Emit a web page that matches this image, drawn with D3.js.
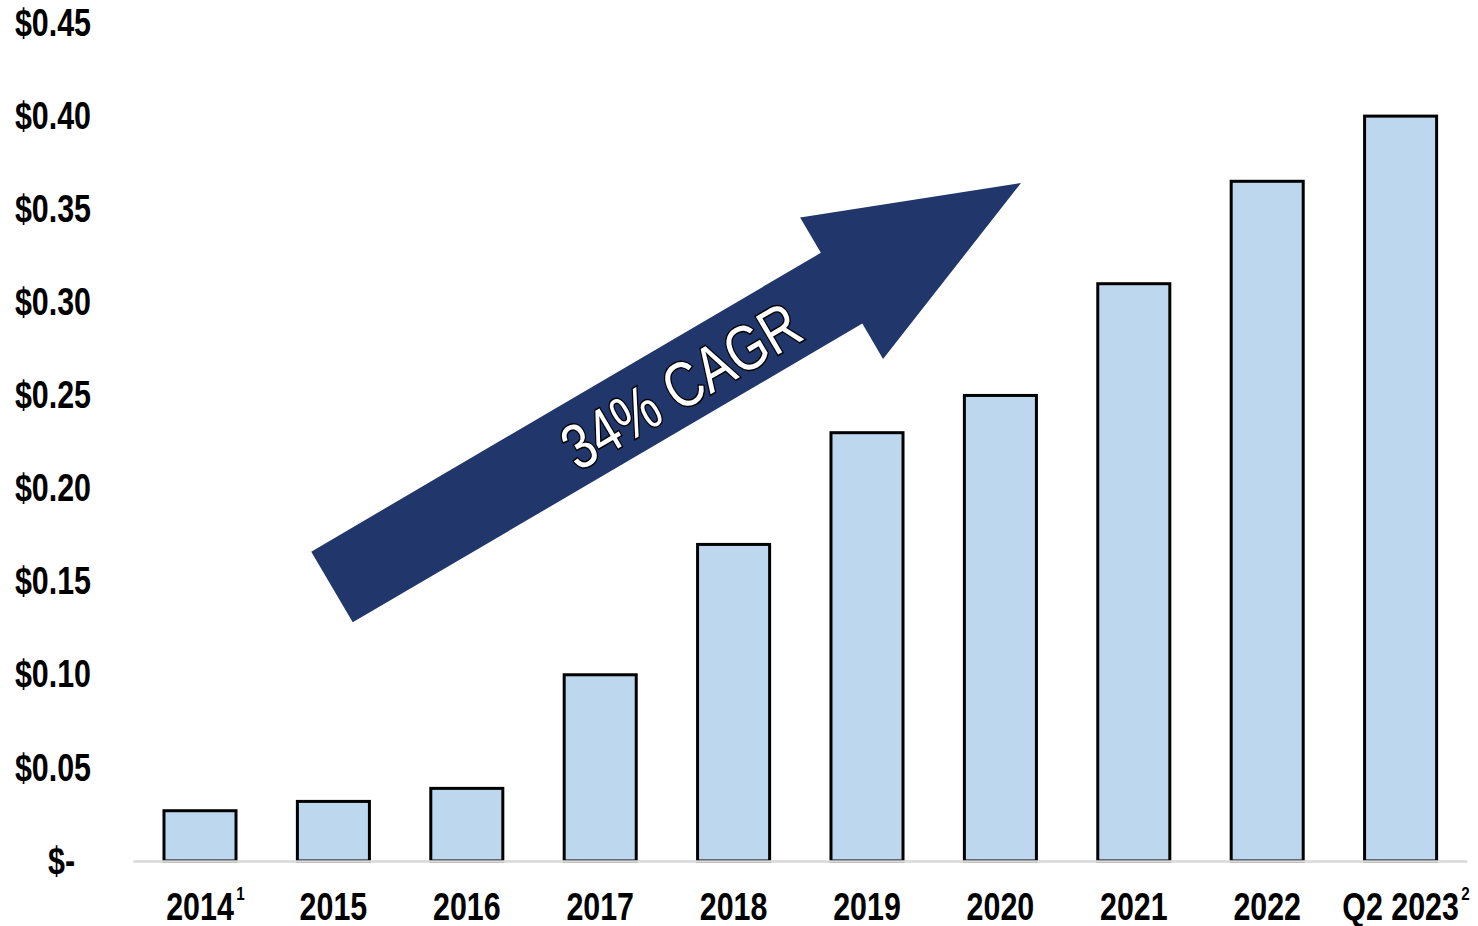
<!DOCTYPE html>
<html>
<head>
<meta charset="utf-8">
<script src="https://cdn.jsdelivr.net/npm/d3@7"></script>
<style>
  html, body { margin: 0; padding: 0; background: #fff; }
  svg { display: block; }
</style>
</head>
<body>
<svg id="chart"></svg>
<script>
// chart data
var categories = ["2014", "2015", "2016", "2017", "2018", "2019", "2020", "2021", "2022", "Q2 2023"];
var footnotes = ["1", "", "", "", "", "", "", "", "", "2"];
var values = [0.027, 0.032, 0.039, 0.10, 0.17, 0.23, 0.25, 0.31, 0.365, 0.40];
var yTicks = [0, 0.05, 0.10, 0.15, 0.20, 0.25, 0.30, 0.35, 0.40, 0.45];
var cagrLabel = "34% CAGR";

function drawChart() {
  var width = 1478;
  var height = 926;
  // no narrow font installed, so squeeze Liberation Sans horizontally
  var font = "'Liberation Sans', Arial, sans-serif";
  var squeeze = "scale(0.8,1)";

  var svg = d3.select("#chart")
    .attr("width", width)
    .attr("height", height);

  // scales
  var x = d3.scaleBand()
    .domain(categories)
    .range([133.3, 1467.3])
    .paddingInner(0.46)
    .paddingOuter(0.23);

  var y = d3.scaleLinear()
    .domain([0, 0.45])
    .range([861, 23]);

  // y axis labels only (no line, no ticks)
  var yAxis = svg.append("g")
    .attr("transform", "translate(91,0)")
    .call(d3.axisLeft(y)
      .tickValues(yTicks)
      .tickSize(0)
      .tickPadding(0)
      .tickFormat(d => d === 0 ? "$-" : "$" + d.toFixed(2)));
  yAxis.select(".domain").remove();
  yAxis.selectAll("text")
    .attr("font-family", font)
    .attr("font-weight", "bold")
    .attr("font-size", "38px")
    .attr("fill", "#000")
    .attr("x", d => d === 0 ? -20 : 0)
    .attr("transform", squeeze);

  // bars
  svg.selectAll("rect.bar")
    .data(values)
    .enter()
    .append("rect")
    .attr("class", "bar")
    .attr("x", (d, i) => x(categories[i]))
    .attr("y", d => y(d))
    .attr("width", x.bandwidth())
    .attr("height", d => y(0) - y(d))
    .attr("fill", "#bdd7ee")
    .attr("stroke", "#000")
    .attr("stroke-width", 3);

  // baseline
  svg.append("line")
    .attr("x1", x.range()[0])
    .attr("x2", x.range()[1])
    .attr("y1", y(0) + 0.5)
    .attr("y2", y(0) + 0.5)
    .attr("stroke", "#d9d9d9")
    .attr("stroke-width", 2.5);

  // x labels with footnote superscripts
  var xLabels = svg.append("g");
  categories.forEach(function(c, i) {
    var t = xLabels.append("text")
      .attr("transform", "translate(" + (x(c) + x.bandwidth() / 2) + ",920) " + squeeze)
      .attr("text-anchor", "middle")
      .attr("font-family", font)
      .attr("font-weight", "bold")
      .attr("font-size", "38px")
      .attr("fill", "#000");
    t.append("tspan").text(c);
    if (footnotes[i]) {
      // superscript hangs off the right, keep the year centred
      t.append("tspan")
        .attr("font-size", "19px")
        .attr("dx", 3)
        .attr("dy", -20)
        .text(footnotes[i]);
      t.attr("dx", 0);
    }
  });
  // recentre labels that carry a footnote (centre on the main text only)
  xLabels.selectAll("text").each(function(d, i) {
    if (footnotes[i]) {
      var main = this.firstChild.getComputedTextLength();
      var total = this.getComputedTextLength();
      d3.select(this).attr("text-anchor", "start").attr("x", -main / 2);
    }
  });

  // growth arrow annotation
  var tail = [332, 587], tip = [1021, 183];
  var shaftW = 82, headW = 164, headLen = 208;
  var dx = tip[0] - tail[0], dy = tip[1] - tail[1];
  var len = Math.sqrt(dx * dx + dy * dy);
  var ux = dx / len, uy = dy / len;
  var nx = -uy, ny = ux;
  var base = [tip[0] - ux * headLen, tip[1] - uy * headLen];
  function pt(p, w) { return [p[0] + nx * w, p[1] + ny * w]; }
  var arrowPts = [
    pt(tail, -shaftW / 2), pt(base, -shaftW / 2), pt(base, -headW / 2), tip,
    pt(base, headW / 2), pt(base, shaftW / 2), pt(tail, shaftW / 2)
  ];
  svg.append("path")
    .attr("d", d3.line()(arrowPts) + "Z")
    .attr("fill", "#21366a");

  var angle = Math.atan2(dy, dx) * 180 / Math.PI;
  svg.append("text")
    .attr("transform", "translate(681,386) rotate(" + angle + ") " + squeeze)
    .attr("text-anchor", "middle")
    .attr("dominant-baseline", "central")
    .attr("font-family", font)
    .attr("font-size", "64px")
    .attr("fill", "#fff")
    .attr("stroke", "#000")
    .attr("stroke-width", 3)
    .attr("paint-order", "stroke")
    .text(cagrLabel);
}

drawChart();
</script>
</body>
</html>
